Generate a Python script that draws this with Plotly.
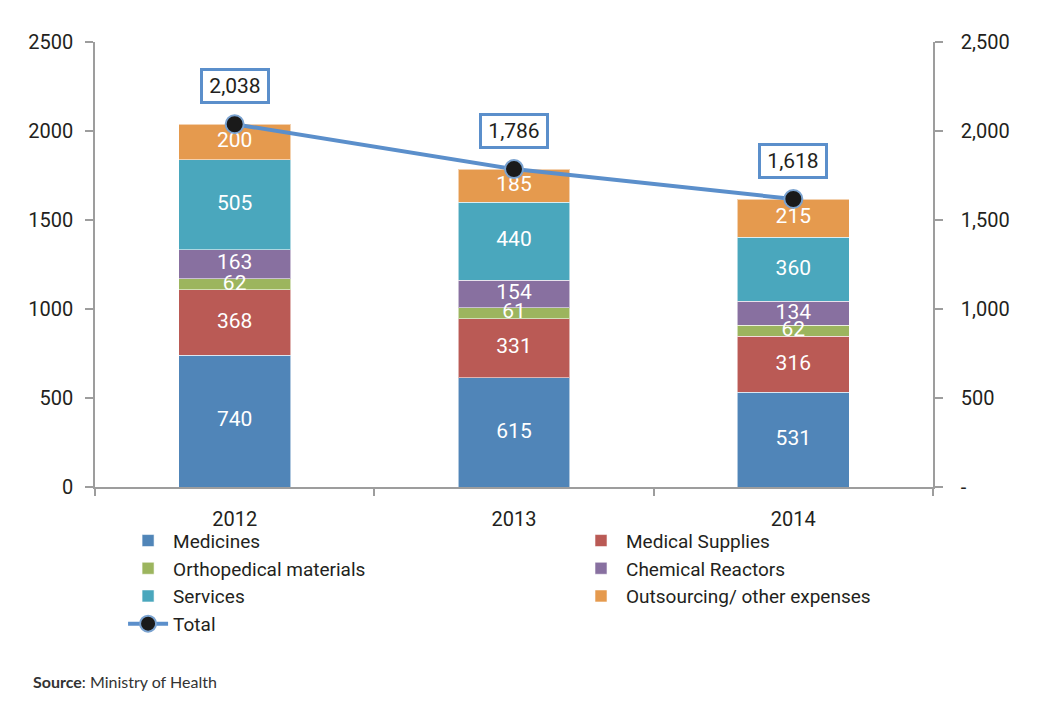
import numpy as np
import plotly.graph_objects as go

years = ["2012", "2013", "2014"]
series_names = ["Medicines", "Medical Supplies", "Orthopedical materials",
                "Chemical Reactors", "Services", "Outsourcing/ other expenses"]
medicines = [740, 615, 531]
medical_supplies = [368, 331, 316]
orthopedical = [62, 61, 62]
chemical = [163, 154, 134]
services = [505, 440, 360]
outsourcing = [200, 185, 215]
totals = [2038, 1786, 1618]

left_ticks = [0, 500, 1000, 1500, 2000, 2500]
left_ticktext = ["0", "500", "1000", "1500", "2000", "2500"]
right_ticktext = ["-", "500", "1,000", "1,500", "2,000", "2,500"]

colors = ["#5085B8", "#BA5A55", "#9CB55E", "#8870A0", "#4AA7BD", "#E59A4E"]
line_color = "#5B8FCB"
FONT = "Roboto, Liberation Sans, sans-serif"
TXT = "#231F20"
AX = "#9D9D9D"

series_vals = [medicines, medical_supplies, orthopedical, chemical, services, outsourcing]
legend_of = ["legend", "legend2", "legend", "legend2", "legend", "legend2"]

fig = go.Figure()
for name, vals, col, lg in zip(series_names, series_vals, colors, legend_of):
    fig.add_trace(go.Bar(
        x=years, y=vals, name=name, legend=lg,
        marker=dict(color=col, line=dict(color="rgba(255,255,255,0.55)", width=1)),
        width=0.4, hoverinfo="skip",
    ))

# segment value labels drawn above all bars (centred in each segment)
stack = np.array(series_vals, dtype=float)
tops = np.cumsum(stack, axis=0)
mids = tops - stack / 2
for vals, mid in zip(series_vals, mids):
    fig.add_trace(go.Scatter(
        x=years, y=mid, mode="text", text=[str(v) for v in vals],
        textposition="middle center", showlegend=False, hoverinfo="skip",
        textfont=dict(color="white", size=21, family=FONT),
    ))

fig.add_trace(go.Scatter(
    x=years, y=totals, name="Total", legend="legend", yaxis="y2",
    mode="lines+markers",
    line=dict(color=line_color, width=4),
    marker=dict(color="#1A1A1A", size=18, line=dict(color="#7BA3D0", width=2)),
    hoverinfo="skip",
))

for i, t in enumerate(totals):
    fig.add_annotation(
        x=i, y=t, xref="x", yref="y2", text=f"{t:,}", showarrow=False, yshift=38,
        font=dict(size=21, color=TXT, family=FONT),
        bgcolor="white", bordercolor=line_color, borderwidth=3, borderpad=2,
        width=60, height=26,
    )

fig.add_annotation(
    xref="paper", yref="paper", x=-0.0764, y=-0.438, xanchor="left", yanchor="middle",
    text="<b>Source</b>: Ministry of Health", showarrow=False,
    font=dict(size=16, color="#333333", family="Lato, Roboto, sans-serif"),
)

fig.update_layout(
    width=1041, height=708,
    margin=dict(l=87, r=116, t=34, b=229),
    paper_bgcolor="white", plot_bgcolor="white",
    barmode="stack", bargap=0.6,
    font=dict(family=FONT, color=TXT, size=20),
    showlegend=True,
    legend=dict(x=0.0335, y=-0.078, xanchor="left", yanchor="top",
                orientation="v", bgcolor="rgba(0,0,0,0)", tracegroupgap=0,
                font=dict(size=19, family=FONT, color=TXT), itemwidth=40,
                traceorder="normal"),
    legend2=dict(x=0.574, y=-0.078, xanchor="left", yanchor="top",
                 orientation="v", bgcolor="rgba(0,0,0,0)", tracegroupgap=0,
                 font=dict(size=19, family=FONT, color=TXT), itemwidth=40,
                 traceorder="normal"),
    xaxis=dict(
        type="category", range=[-0.5, 2.5], showgrid=False,
        showline=True, linecolor=AX, linewidth=1.5,
        ticks="outside", tickson="boundaries", ticklen=7, tickcolor=AX, tickwidth=1.5,
        tickfont=dict(size=20, family=FONT, color=TXT),
        ticklabelstandoff=13,
        zeroline=False,
    ),
    yaxis=dict(
        range=[0, 2500], tickvals=left_ticks, ticktext=left_ticktext,
        showgrid=False, zeroline=False,
        showline=True, linecolor=AX, linewidth=1.5,
        ticks="outside", ticklen=8, tickcolor=AX, tickwidth=1.5,
        tickfont=dict(size=20, family=FONT, color=TXT),
        ticklabelstandoff=8,
    ),
    yaxis2=dict(
        range=[0, 2500], overlaying="y", side="right",
        tickvals=left_ticks, ticktext=right_ticktext,
        showgrid=False, zeroline=False,
        showline=True, linecolor=AX, linewidth=1.5,
        ticks="outside", ticklen=8, tickcolor=AX, tickwidth=1.5,
        tickfont=dict(size=20, family=FONT, color=TXT),
        ticklabelstandoff=14,
    ),
)

fig.write_html("out.html")
